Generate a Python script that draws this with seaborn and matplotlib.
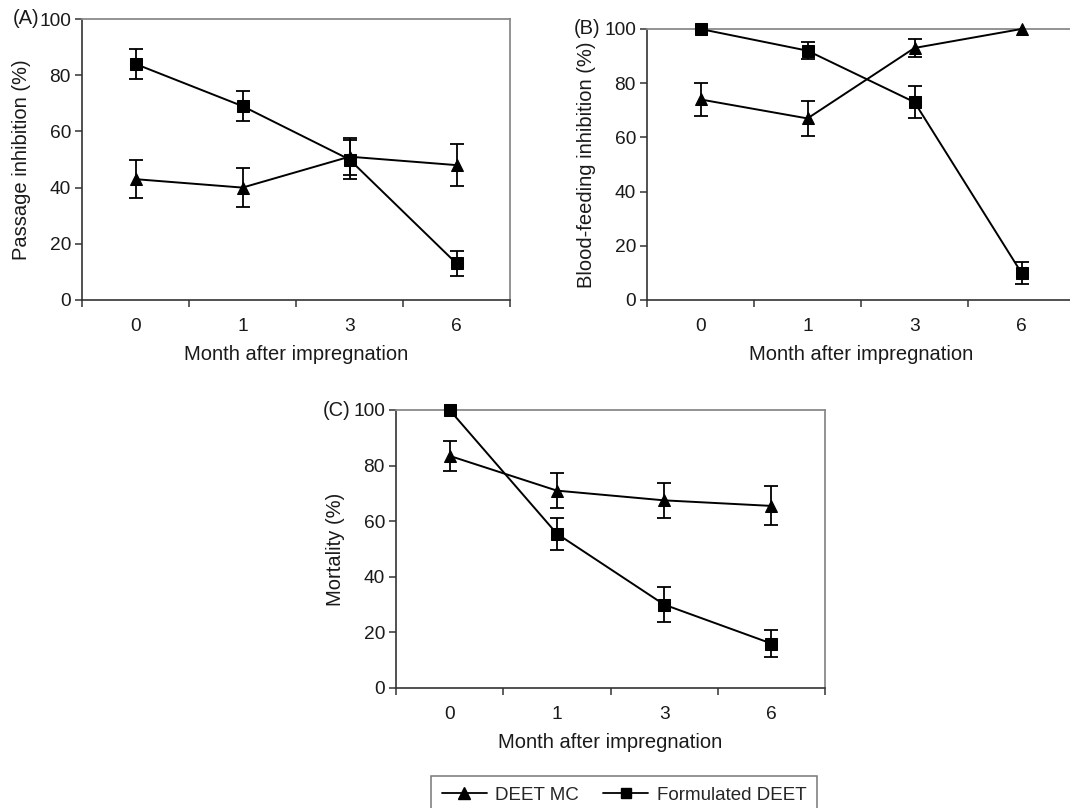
import numpy as np
import matplotlib
matplotlib.use("Agg")
import matplotlib.pyplot as plt
import seaborn as sns
import pandas as pd
from matplotlib.lines import Line2D

sns.set_theme(style="white")
plt.rcParams['font.family'] = ['Liberation Sans', 'DejaVu Sans']

months = ["0", "1", "3", "6"]
series_names = ["DEET MC", "Formulated DEET"]

# Panel A: Passage inhibition
a_mc = [43, 40, 51, 48]
a_mc_err = [6.8, 6.8, 6.5, 7.4]
a_form = [84, 69, 50, 13]
a_form_err = [5.4, 5.3, 7.0, 4.6]

# Panel B: Blood-feeding inhibition
b_mc = [74, 67, 93, 100]
b_mc_err = [6.0, 6.5, 3.4, 0]
b_form = [100, 92, 73, 10]
b_form_err = [0, 3.2, 6.0, 4.0]

# Panel C: Mortality
c_mc = [83.5, 71, 67.5, 65.5]
c_mc_err = [5.3, 6.4, 6.4, 7.0]
c_form = [100, 55.5, 30, 16]
c_form_err = [0, 5.8, 6.4, 4.8]

ylabels = ["Passage inhibition (%)", "Blood-feeding inhibition (%)", "Mortality (%)"]
panel_tags = ["(A)", "(B)", "(C)"]
xlabel = "Month after impregnation"

W, H = 1070, 808
fig = plt.figure(figsize=(W / 100, H / 100), dpi=100)

def px_axes(left, right, top, bottom):
    return fig.add_axes([left / W, 1 - bottom / H, (right - left) / W, (bottom - top) / H])

axA = px_axes(82, 510, 19, 300)
axB = px_axes(647, 1075, 29, 300)
axC = px_axes(396, 825, 410, 688)

panels = [
    (axA, a_mc, a_mc_err, a_form, a_form_err),
    (axB, b_mc, b_mc_err, b_form, b_form_err),
    (axC, c_mc, c_mc_err, c_form, c_form_err),
]

FS = 14.5
TFS = 13.8
TXT = "#1a1a1a"
pos = np.arange(len(months))

for i, (ax, mc, mce, fo, foe) in enumerate(panels):
    df = pd.DataFrame({
        "pos": np.concatenate([pos, pos]),
        "value": mc + fo,
        "err": mce + foe,
        "series": [series_names[0]] * 4 + [series_names[1]] * 4,
    })
    for name in series_names:
        sub = df[df.series == name]
        e = sub["err"].to_numpy()
        mask = e > 0
        ax.errorbar(sub["pos"].to_numpy()[mask], sub["value"].to_numpy()[mask],
                    yerr=e[mask], fmt="none", ecolor="black", elinewidth=1.3,
                    capsize=5.2, capthick=1.3, zorder=2, clip_on=False)
    sns.lineplot(data=df, x="pos", y="value", style="series",
                 markers={series_names[0]: "^", series_names[1]: "s"},
                 dashes=False, color="black", linewidth=1.4, markersize=9, ax=ax,
                 legend=False, zorder=3, clip_on=False, markeredgecolor="black")
    ax.set_xlim(-0.5, 3.5)
    ax.set_ylim(0, 100)
    ax.set_yticks([0, 20, 40, 60, 80, 100])
    ax.set_yticklabels(["0", "20", "40", "60", "80", "100"], fontsize=TFS, color=TXT)
    ax.set_xticks(np.arange(-0.5, 3.6, 1.0))
    ax.set_xticklabels([])
    ax.set_xticks(pos, minor=True)
    ax.set_xticklabels(months, minor=True, fontsize=TFS, color=TXT)
    ax.tick_params(axis="x", which="minor", length=0, pad=13)
    ax.tick_params(axis="x", which="major", direction="out", length=5, width=1.1, color="#333333", bottom=True)
    ax.tick_params(axis="y", direction="out", length=5, width=1.1, color="#333333", left=True, pad=3)
    ax.set_xlabel(xlabel, fontsize=FS, color=TXT, labelpad=7)
    ax.set_ylabel(ylabels[i], fontsize=FS, color=TXT, labelpad=6)
    for s in ["left", "bottom"]:
        ax.spines[s].set_color("#333333")
        ax.spines[s].set_linewidth(1.2)
    for s in ["top", "right"]:
        ax.spines[s].set_color("#8a8a8a")
        ax.spines[s].set_linewidth(1.3)
    ax.grid(False)
    ax.set_facecolor("white")

# Panel tags
fig.text(39 / W, 1 - 19 / H, panel_tags[0], ha="right", va="center", fontsize=FS, color=TXT)
fig.text(600 / W, 1 - 29 / H, panel_tags[1], ha="right", va="center", fontsize=FS, color=TXT)
fig.text(351 / W, 1 - 410 / H, panel_tags[2], ha="right", va="center", fontsize=FS, color=TXT)

handles = [
    Line2D([0], [0], color="black", marker="^", markersize=8, linewidth=1.3),
    Line2D([0], [0], color="black", marker="s", markersize=6.5, linewidth=1.3),
]
leg = fig.legend(handles, series_names, loc="center", bbox_to_anchor=(624 / W, 1 - 795 / H),
                 ncol=2, frameon=True, fancybox=False, fontsize=13.5, handlelength=2.4,
                 columnspacing=1.3, borderpad=0.55, handletextpad=0.45)
leg.get_frame().set_edgecolor("#555555")
leg.get_frame().set_linewidth(1.1)

fig.savefig("out.png", dpi=100, facecolor="white")
